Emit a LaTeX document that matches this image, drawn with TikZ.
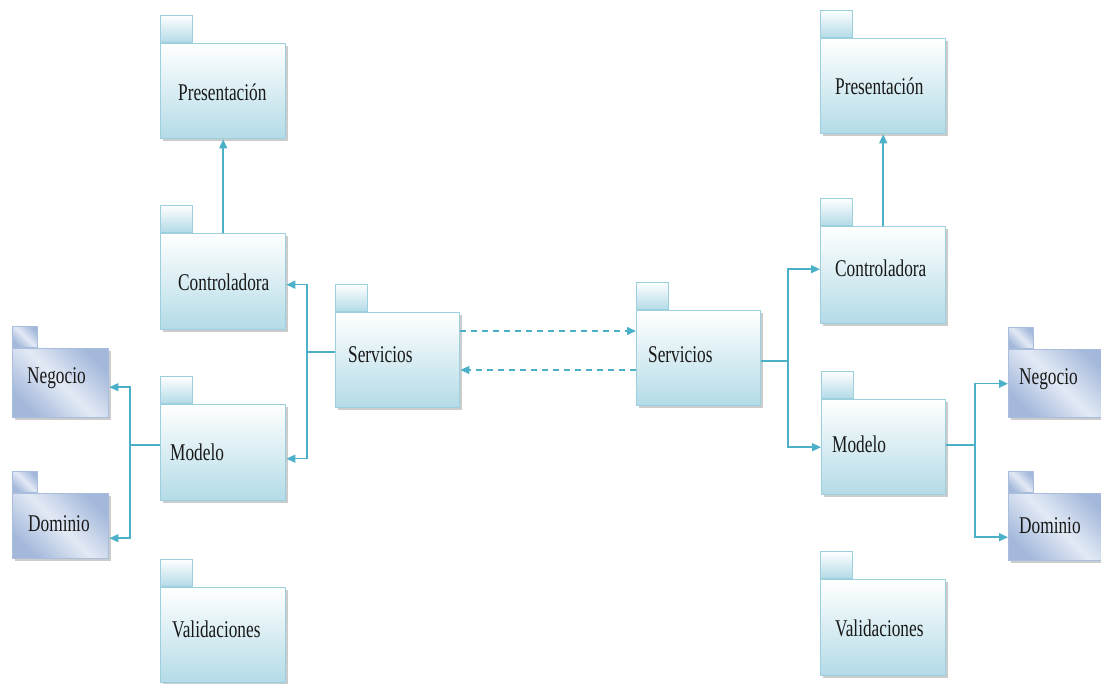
\documentclass[tikz,border=0pt]{standalone}
\usepackage{fontspec}
\newfontfamily\pkgfont{Liberation Serif}[FakeStretch=0.72]
\usetikzlibrary{shadows,calc,arrows.meta}

\definecolor{pkgedge}{HTML}{9DD0DF}
\definecolor{pkgfill}{HTML}{B3DBE7}
\definecolor{subedge}{HTML}{A9BDDD}
\definecolor{subfill}{HTML}{A3B8DB}
\definecolor{subglow}{HTML}{E3EAF5}
\definecolor{wire}{HTML}{4DB0C9}

\tikzset{
  boxshadow/.style={drop shadow={shadow xshift=2.5pt, shadow yshift=-2.5pt, fill=black!40, opacity=0.5}},
  pkgbody/.style={draw=pkgedge, line width=1.4pt, top color=white, bottom color=pkgfill,
    boxshadow, inner sep=0pt},
  pkgtab/.style={draw=pkgedge, line width=1.4pt, top color=white, bottom color=pkgfill,
    inner sep=0pt, minimum width=32pt, minimum height=27pt},
  subbody/.style={draw=subedge, line width=1.4pt, left color=subfill, right color=subfill,
    middle color=subglow, shading angle=135, boxshadow, inner sep=0pt},
  subtab/.style={draw=subedge, line width=1.4pt, left color=subfill, right color=subfill,
    middle color=subglow, shading angle=135, inner sep=0pt,
    minimum width=25pt, minimum height=21pt},
  pkglabel/.style={inner sep=0pt, font=\pkgfont\fontsize{24}{28}\selectfont, text=black!90},
  wireline/.style={draw=wire, line width=1.5pt},
  wirearrow/.style={wireline, -{Triangle[length=9pt,width=8pt]}},
  wiredash/.style={wirearrow, dash pattern=on 6pt off 5pt},
}

% #1 kind (pkg/sub), #2 name, #3 top-left corner of body, #4 width, #5 height,
% #6 label, #7 label offset from the west anchor
\newcommand\umlpackage[7]{%
  \node[#1tab, anchor=south west] (#2-tab) at (#3) {};
  \node[#1body, minimum width=#4pt, minimum height=#5pt, anchor=north west] (#2) at (#3) {};
  \node[pkglabel, anchor=west] (#2-text) at ($(#2.west)+(#7)$) {#6};
}

\begin{document}
\begin{tikzpicture}[x=1pt, y=-1pt]
  \useasboundingbox (0,0) rectangle (1101,684);
  \clip (0,0) rectangle (1101,684);

  % left subsystem
  \umlpackage{pkg}{presL}{160,43}{125}{95}{Presentación}{18,1}
  \umlpackage{pkg}{ctlL}{160,233}{125}{96}{Controladora}{18,1}
  \umlpackage{pkg}{modL}{160,404}{125}{96}{Modelo}{10,0}
  \umlpackage{pkg}{valL}{160,587}{125}{95}{Validaciones}{12,-6}
  \umlpackage{pkg}{servL}{335,312}{124}{95}{Servicios}{13,-6}
  \umlpackage{sub}{negL}{12,348}{96}{69}{Negocio}{15,-5}
  \umlpackage{sub}{domL}{12,493}{96}{65}{Dominio}{16,-3}

  % right subsystem
  \umlpackage{pkg}{servR}{636,310}{124}{95}{Servicios}{12,-4}
  \umlpackage{pkg}{presR}{820,38}{125}{95}{Presentación}{15,0}
  \umlpackage{pkg}{ctlR}{820,226}{125}{97}{Controladora}{15,-7}
  \umlpackage{pkg}{modR}{821,399}{124}{95}{Modelo}{11,-3}
  \umlpackage{pkg}{valR}{820,579}{125}{96}{Validaciones}{15,1}
  \umlpackage{sub}{negR}{1008,349}{100}{68}{Negocio}{11,-5}
  \umlpackage{sub}{domR}{1008,493}{100}{67}{Dominio}{11,-2}

  % junction points of the branching connectors
  \coordinate (jServL) at (307,352);
  \coordinate (jModL) at (130,445);
  \coordinate (jServR) at (788,361);
  \coordinate (jModR) at (975,445);
  \coordinate (dashTop) at (548,331);
  \coordinate (dashBot) at (548,370);

  % left connectors
  \draw[wirearrow] (ctlL.north) -- (presL.south);
  \draw[wireline] (servL.west |- jServL) -- (jServL);
  \draw[wirearrow] (jServL) |- ($(ctlL.east)+(0,3)$);
  \draw[wirearrow] (jServL) |- ($(modL.east)+(0,6)$);
  \draw[wireline] (modL.west |- jModL) -- (jModL);
  \draw[wirearrow] (jModL) |- ($(negL.east)+(0,4)$);
  \draw[wirearrow] (jModL) |- ($(domL.east)+(0,12)$);

  % right connectors
  \draw[wirearrow] (ctlR.north) -- (presR.south);
  \draw[wireline] (servR.east |- jServR) -- (jServR);
  \draw[wirearrow] (jServR) |- ($(ctlR.west)+(0,-6)$);
  \draw[wirearrow] (jServR) |- (modR.west);
  \draw[wireline] (modR.east |- jModR) -- (jModR);
  \draw[wirearrow] (jModR) |- (negR.west);
  \draw[wirearrow] (jModR) |- ($(domR.west)+(0,10)$);

  % communication between the two service layers
  \draw[wiredash] (servL.east |- dashTop) -- (servR.west |- dashTop);
  \draw[wiredash] (servR.west |- dashBot) -- (servL.east |- dashBot);
\end{tikzpicture}
\end{document}
